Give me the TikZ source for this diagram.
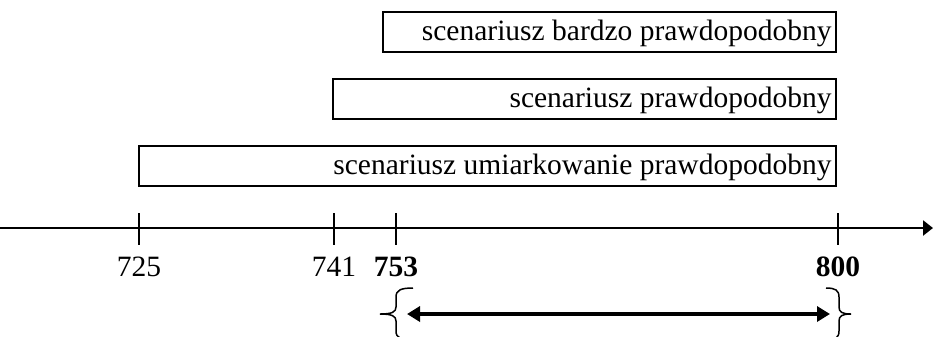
\documentclass[tikz,border=0pt]{standalone}
\usepackage{fontspec}
\setmainfont{Liberation Serif}
\usetikzlibrary{arrows.meta}

\tikzset{
  boxtext/.style={anchor=east,inner sep=0,font=\fontsize{11.8}{14}\selectfont},
  ticklabel/.style={inner sep=0,font=\fontsize{11.8}{14}\selectfont},
  bracepath/.style={line width=0.6pt}
}

\begin{document}
\begin{tikzpicture}[x=0.4pt,y=-0.4pt]
\useasboundingbox (0,0) rectangle (933,336);
\draw[line width=0.6pt] (383,12) rectangle (836,52);
\node[boxtext] (bardzo) at (832,33) {scenariusz bardzo prawdopodobny};
\draw[line width=0.6pt] (333,79) rectangle (836,119);
\node[boxtext] (prawd) at (832,100) {scenariusz prawdopodobny};
\draw[line width=0.6pt] (139,146) rectangle (836,186);
\node[boxtext] (umiark) at (832,167) {scenariusz umiarkowanie prawdopodobny};
\coordinate (start) at (0,228);
\coordinate (end) at (933,228);
\draw[line width=1pt,-{Triangle[length=4pt,width=6pt]}] (start) -- (end);
\foreach \x in {139,334,396,838}
  \draw[line width=0.8pt] (\x,213) -- (\x,245);
\node[ticklabel] (l725) at (139,267) {725};
\node[ticklabel] (l741) at (334,267) {741};
\node[ticklabel] (l753) at (396,267) {\textbf{753}};
\node[ticklabel] (l800) at (838,267) {\textbf{800}};
% braces
\coordinate (lbrace) at (380,314);
\coordinate (rbrace) at (851,314);
\draw[bracepath] (413,288) .. controls (401,288) and (396,290) .. (396,297)
  -- (396,307) .. controls (396,312) and (392,314) .. (lbrace)
  .. controls (392,314) and (396,316) .. (396,321)
  -- (396,331) .. controls (396,338) and (401,340) .. (413,340);
\draw[bracepath] (826,288) .. controls (835,288) and (839,290) .. (839,297)
  -- (839,307) .. controls (839,312) and (842,314) .. (rbrace)
  .. controls (842,314) and (839,316) .. (839,321)
  -- (839,331) .. controls (839,338) and (835,340) .. (826,340);
\draw[line width=1.5pt,{Triangle[length=5.2pt,width=6pt]}-{Triangle[length=5.2pt,width=6pt]},shorten <=27*0.4pt,shorten >=21*0.4pt] (lbrace) -- (rbrace);
\end{tikzpicture}
\end{document}
